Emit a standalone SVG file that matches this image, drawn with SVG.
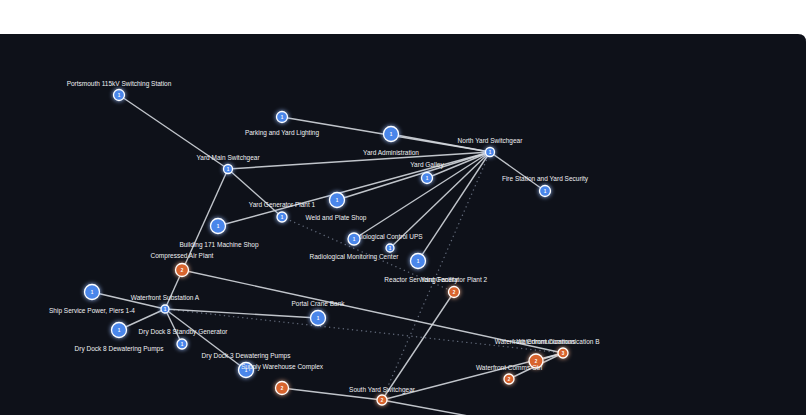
<svg xmlns="http://www.w3.org/2000/svg" width="806" height="415" viewBox="0 0 806 415">
<defs>
<filter id="glow" x="-100%" y="-100%" width="300%" height="300%"><feGaussianBlur stdDeviation="2.2"/></filter>
<style>
.lbl{font-family:"Liberation Sans",Arial,sans-serif;font-size:6.5px;fill:#eef0f3;text-anchor:middle}
.num{font-family:"Liberation Sans",Arial,sans-serif;font-size:4.6px;font-weight:bold;fill:#ffffff;text-anchor:middle}
.e{stroke:#d4d8de;stroke-width:1.4;fill:none;stroke-opacity:0.9}
.d{stroke:#5f6777;stroke-width:1.4;fill:none;stroke-dasharray:0.1 4.5;stroke-linecap:round}
.b{fill:#4a86ea;stroke:#ffffff;stroke-width:1.3}
.o{fill:#d8642e;stroke:#ffffff;stroke-width:1.3}
.gb{fill:#9cbfff;opacity:0.8;filter:url(#glow)}
.go{fill:#ffb690;opacity:0.75;filter:url(#glow)}
</style>
</defs>
<rect width="806" height="415" fill="#ffffff"/>
<path d="M0,34 H798 Q806,34 806,42 V415 H0 Z" fill="#0e1119"/>
<g id="connectors">
<line class="d" x1="490" y1="152" x2="382" y2="400"/>
<line class="d" x1="282" y1="217" x2="454" y2="292"/>
<line class="d" x1="165" y1="309" x2="563" y2="353"/>
<line class="e" x1="119" y1="95" x2="228" y2="169"/>
<line class="e" x1="282" y1="117" x2="490" y2="152"/>
<line class="e" x1="391" y1="134" x2="490" y2="152"/>
<line class="e" x1="228" y1="169" x2="490" y2="152"/>
<line class="e" x1="490" y1="152" x2="545" y2="191"/>
<line class="e" x1="490" y1="152" x2="427" y2="178"/>
<line class="e" x1="490" y1="152" x2="337" y2="200"/>
<line class="e" x1="218" y1="226" x2="490" y2="152"/>
<line class="e" x1="490" y1="152" x2="354" y2="239"/>
<line class="e" x1="490" y1="152" x2="390" y2="248"/>
<line class="e" x1="490" y1="152" x2="418" y2="261"/>
<line class="e" x1="228" y1="169" x2="282" y2="217"/>
<line class="e" x1="228" y1="169" x2="165" y2="309"/>
<line class="e" x1="182" y1="270" x2="563" y2="353"/>
<line class="e" x1="165" y1="309" x2="92" y2="292"/>
<line class="e" x1="165" y1="309" x2="119" y2="330"/>
<line class="e" x1="165" y1="309" x2="182" y2="344"/>
<line class="e" x1="165" y1="309" x2="246" y2="370"/>
<line class="e" x1="165" y1="309" x2="318" y2="318"/>
<line class="e" x1="382" y1="400" x2="454" y2="292"/>
<line class="e" x1="382" y1="400" x2="563" y2="353"/>
<line class="e" x1="536" y1="361" x2="563" y2="353"/>
<line class="e" x1="509" y1="379" x2="563" y2="353"/>
<line class="e" x1="282" y1="388" x2="382" y2="400"/>
<line class="e" x1="382" y1="400" x2="490" y2="420"/>
</g>
<g id="n-portsmouth"><circle class="gb" cx="119" cy="95" r="6.5"/><circle class="b" cx="119" cy="95" r="5.5"/><text class="num" x="119" y="96.7">1</text><text class="lbl" x="119" y="86">Portsmouth 115kV Switching Station</text></g>
<g id="n-parking"><circle class="gb" cx="282" cy="117" r="6.5"/><circle class="b" cx="282" cy="117" r="5.5"/><text class="num" x="282" y="118.7">1</text><text class="lbl" x="282" y="135">Parking and Yard Lighting</text></g>
<g id="n-yardadmin"><circle class="gb" cx="391" cy="134" r="8.5"/><circle class="b" cx="391" cy="134" r="7.5"/><text class="num" x="391" y="135.7">1</text><text class="lbl" x="391" y="155">Yard Administration</text></g>
<g id="n-northyard"><circle class="gb" cx="490" cy="152" r="5.5"/><circle class="b" cx="490" cy="152" r="4.5"/><text class="num" x="490" y="153.7">1</text><text class="lbl" x="490" y="143">North Yard Switchgear</text></g>
<g id="n-fire"><circle class="gb" cx="545" cy="191" r="6.5"/><circle class="b" cx="545" cy="191" r="5.5"/><text class="num" x="545" y="192.7">1</text><text class="lbl" x="545" y="181">Fire Station and Yard Security</text></g>
<g id="n-yardmain"><circle class="gb" cx="228" cy="169" r="5.5"/><circle class="b" cx="228" cy="169" r="4.5"/><text class="num" x="228" y="170.7">1</text><text class="lbl" x="228" y="160">Yard Main Switchgear</text></g>
<g id="n-galley"><circle class="gb" cx="427" cy="178" r="6.5"/><circle class="b" cx="427" cy="178" r="5.5"/><text class="num" x="427" y="179.7">1</text><text class="lbl" x="427" y="167">Yard Galley</text></g>
<g id="n-weld"><circle class="gb" cx="337" cy="200" r="8.5"/><circle class="b" cx="337" cy="200" r="7.5"/><text class="num" x="337" y="201.7">1</text><text class="lbl" x="336" y="220">Weld and Plate Shop</text></g>
<g id="n-gen1"><circle class="gb" cx="282" cy="217" r="6"/><circle class="b" cx="282" cy="217" r="5"/><text class="num" x="282" y="218.7">1</text><text class="lbl" x="282" y="207">Yard Generator Plant 1</text></g>
<g id="n-bldg171"><circle class="gb" cx="218" cy="226" r="8.5"/><circle class="b" cx="218" cy="226" r="7.5"/><text class="num" x="218" y="227.7">1</text><text class="lbl" x="219" y="247">Building 171 Machine Shop</text></g>
<g id="n-radups"><circle class="gb" cx="390" cy="248" r="5"/><circle class="b" cx="390" cy="248" r="4"/><text class="num" x="390" y="249.7">1</text><text class="lbl" x="386" y="239">Radiological Control UPS</text></g>
<g id="n-radmon"><circle class="gb" cx="354" cy="239" r="7"/><circle class="b" cx="354" cy="239" r="6"/><text class="num" x="354" y="240.7">1</text><text class="lbl" x="354" y="259">Radiological Monitoring Center</text></g>
<g id="n-reactor"><circle class="gb" cx="418" cy="261" r="8.5"/><circle class="b" cx="418" cy="261" r="7.5"/><text class="num" x="418" y="262.7">1</text><text class="lbl" x="421" y="282">Reactor Servicing Facility</text></g>
<g id="n-gen2"><circle class="go" cx="454" cy="292" r="6.5"/><circle class="o" cx="454" cy="292" r="5.5"/><text class="num" x="454" y="293.7">2</text><text class="lbl" x="454" y="282">Yard Generator Plant 2</text></g>
<g id="n-air"><circle class="go" cx="182" cy="270" r="7.5"/><circle class="o" cx="182" cy="270" r="6.5"/><text class="num" x="182" y="271.7">2</text><text class="lbl" x="182" y="258">Compressed Air Plant</text></g>
<g id="n-shipservice"><circle class="gb" cx="92" cy="292" r="8.5"/><circle class="b" cx="92" cy="292" r="7.5"/><text class="num" x="92" y="293.7">1</text><text class="lbl" x="92" y="313">Ship Service Power, Piers 1-4</text></g>
<g id="n-subA"><circle class="gb" cx="165" cy="309" r="5"/><circle class="b" cx="165" cy="309" r="4"/><text class="num" x="165" y="310.7">1</text><text class="lbl" x="165" y="300">Waterfront Substation A</text></g>
<g id="n-crane"><circle class="gb" cx="318" cy="318" r="8.5"/><circle class="b" cx="318" cy="318" r="7.5"/><text class="num" x="318" y="319.7">1</text><text class="lbl" x="318" y="306">Portal Crane Bank</text></g>
<g id="n-dd8pumps"><circle class="gb" cx="119" cy="330" r="8.5"/><circle class="b" cx="119" cy="330" r="7.5"/><text class="num" x="119" y="331.7">1</text><text class="lbl" x="119" y="351">Dry Dock 8 Dewatering Pumps</text></g>
<g id="n-dd8gen"><circle class="gb" cx="182" cy="344" r="6"/><circle class="b" cx="182" cy="344" r="5"/><text class="num" x="182" y="345.7">1</text><text class="lbl" x="183" y="334">Dry Dock 8 Standby Generator</text></g>
<g id="n-dd3pumps"><circle class="gb" cx="246" cy="370" r="8.5"/><circle class="b" cx="246" cy="370" r="7.5"/><text class="num" x="246" y="371.7">1</text><text class="lbl" x="246" y="358">Dry Dock 3 Dewatering Pumps</text></g>
<g id="n-warehouse"><circle class="go" cx="282" cy="388" r="7.5"/><circle class="o" cx="282" cy="388" r="6.5"/><text class="num" x="282" y="389.7">2</text><text class="lbl" x="282" y="369">Supply Warehouse Complex</text></g>
<g id="n-southyard"><circle class="go" cx="382" cy="400" r="6"/><circle class="o" cx="382" cy="400" r="5"/><text class="num" x="382" y="401.7">2</text><text class="lbl" x="382" y="392">South Yard Switchgear</text></g>
<g id="n-wcommsB"><circle class="go" cx="563" cy="353" r="6"/><circle class="o" cx="563" cy="353" r="5"/><text class="num" x="563" y="354.7">3</text><text class="lbl" x="558" y="344">Waterfront Communication B</text></g>
<g id="n-wcomms"><circle class="go" cx="536" cy="361" r="8"/><circle class="o" cx="536" cy="361" r="7"/><text class="num" x="536" y="362.7">2</text><text class="lbl" x="535" y="344">Waterfront Communications</text></g>
<g id="n-wcommsctrl"><circle class="go" cx="509" cy="379" r="6"/><circle class="o" cx="509" cy="379" r="5"/><text class="num" x="509" y="380.7">2</text><text class="lbl" x="509" y="370">Waterfront Comms Ctrl</text></g>
</svg>
